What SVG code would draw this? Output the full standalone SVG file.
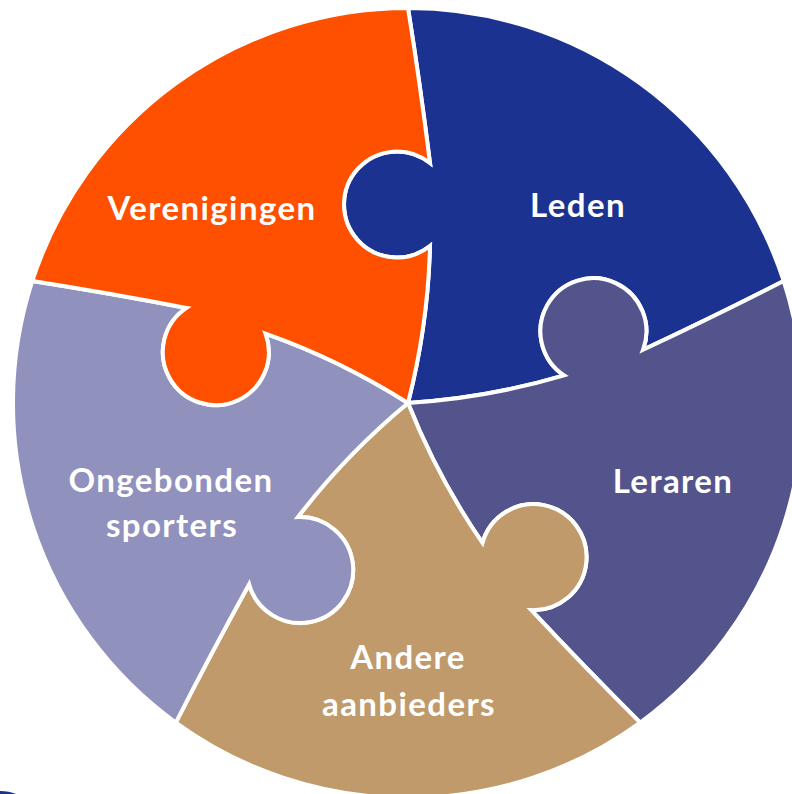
<svg xmlns="http://www.w3.org/2000/svg" width="792" height="794" viewBox="0 0 792 794">
<style>
.piece{stroke:#FFFFFF;stroke-width:4;stroke-linejoin:miter;stroke-miterlimit:10}
.lbl{font-family:Lato,"Open Sans","Liberation Sans",sans-serif;font-weight:bold;font-size:33px;letter-spacing:1.4px;fill:#FFFFFF;text-anchor:middle}
</style>
<defs>
<path id="pc" d="M0,0 Q20,-78 22,-157 A53,53 0 1 1 22,-240 Q12,-320 0,-395 A395,395 0 0 1 375.67,-122.06 Q308.05,-87.47 235.05,-53.24 A53,53 0 1 0 156.12,-27.60 Q80.36,-5.08 0,0 Z"/>
</defs>
<rect width="792" height="794" fill="#FFFFFF"/>
<path d="M0,791 Q9,791 16,794 L0,794 Z" fill="#1B3291"/>
<g id="leden">
<use href="#pc" class="piece" fill="#1B3291" transform="translate(408,403)"/>
<text class="lbl" x="578" y="217">Leden</text>
</g>
<g id="leraren">
<use href="#pc" class="piece" fill="#54548C" transform="translate(408,403) rotate(72)"/>
<text class="lbl" x="673" y="493">Leraren</text>
</g>
<g id="andere-aanbieders">
<use href="#pc" class="piece" fill="#C09A6B" transform="translate(408,403) rotate(144)"/>
<text class="lbl" x="408" y="669">Andere</text>
<text class="lbl" x="409" y="716">aanbieders</text>
</g>
<g id="ongebonden-sporters">
<use href="#pc" class="piece" fill="#9191BD" transform="translate(408,403) rotate(216)"/>
<text class="lbl" x="171" y="492">Ongebonden</text>
<text class="lbl" x="172" y="537">sporters</text>
</g>
<g id="verenigingen">
<use href="#pc" class="piece" fill="#FF5000" transform="translate(408,403) rotate(288)"/>
<text class="lbl" x="212" y="220">Verenigingen</text>
</g>
<g id="connectors"/>
</svg>
